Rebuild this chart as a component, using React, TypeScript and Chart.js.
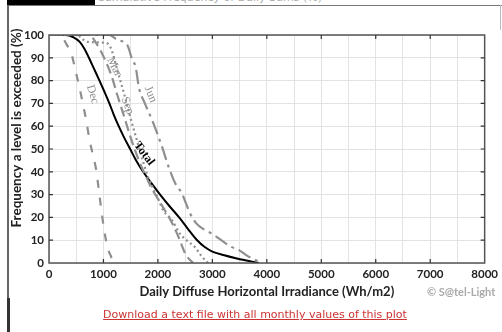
import React, { useEffect, useRef } from "react";
import { Chart, registerables } from "chart.js";

Chart.register(...registerables);

// ---- data ----
const totalX = [0, 300, 450, 564, 650, 733, 830, 927, 1020, 1109, 1190, 1280, 1380, 1490, 1600, 1730, 1880, 2040, 2210, 2390, 2550, 2720, 2860, 3000, 3200, 3450, 3650, 3850];
const totalY = [100, 100, 99, 97, 94, 90, 85, 80, 75, 70, 65, 60, 55, 50, 45, 40, 35, 30, 25, 20, 15, 10, 7, 5, 3.5, 2, 1, 0];

const decX = [0, 200, 320, 420, 500, 560, 620, 680, 744, 800, 865, 925, 985, 1046, 1100, 1137, 1170];
const decY = [100, 100, 96, 91, 83, 77, 70, 63, 54, 48, 41, 30, 19, 10, 5, 3, 0];

const marX = [0, 750, 850, 950, 1050, 1150, 1250, 1370, 1500, 1650, 1800, 1880, 2080, 2250, 2377, 2498, 2619, 2650];
const marY = [100, 100, 97, 93, 88, 82, 74, 65, 55, 45, 37, 33, 25, 18, 11.5, 4.3, 0.6, 0];

const sepX = [0, 500, 700, 1050, 1120, 1170, 1250, 1370, 1480, 1600, 1720, 1830, 1950, 2014, 2100, 2256, 2400, 2550, 2680, 2800, 2920];
const sepY = [100, 100, 97, 96.5, 95, 92, 85, 75, 65, 55, 45, 37, 31, 27.6, 23, 18.9, 13, 9.5, 7, 3, 0];

const junX = [0, 1100, 1258, 1439, 1530, 1591, 1651, 1760, 1893, 2075, 2196, 2317, 2438, 2590, 2700, 2862, 2982, 3164, 3345, 3466, 3650, 3800, 3900];
const junY = [100, 100, 97.8, 95.6, 89, 86, 77, 70, 62.7, 51, 42.2, 35, 30.6, 21.8, 17.5, 14.5, 13, 10, 7.1, 6, 3, 1.2, 0];

const curveLabels = ["Dec", "Mar", "Sep", "Jun", "Total"];
const labelX = [800, 1200, 1440, 1865, 1745];
const labelY = [74, 86, 69, 74, 48];
const labelAngle = [73, 63, 69, 67, 53];

const xMin = 0;
const xMax = 8000;
const yMin = 0;
const yMax = 100;

const yTitle = "Frequency a level is exceeded (%)";
const xTitle = "Daily Diffuse Horizontal Irradiance (Wh/m2)";

const pts = (xs: number[], ys: number[]) => xs.map((x, i) => ({ x, y: ys[i] }));

const GRAY = "#8f8f8f";

const framePlugin = {
  id: "frame",
  afterDatasetsDraw(chart: any) {
    const { ctx, chartArea: a, scales } = chart;
    const xs = scales.x;
    const ys = scales.y;
    ctx.save();
    // curve labels
    curveLabels.forEach((t, i) => {
      const px = xs.getPixelForValue(labelX[i]);
      const py = ys.getPixelForValue(labelY[i]);
      ctx.save();
      ctx.translate(px, py);
      ctx.rotate((labelAngle[i] * Math.PI) / 180);
      ctx.textAlign = "center";
      ctx.textBaseline = "middle";
      if (t === "Total") {
        ctx.fillStyle = "#000";
        ctx.font = "bold 12px 'Liberation Serif'";
      } else {
        ctx.fillStyle = GRAY;
        ctx.font = "12px 'Liberation Serif'";
      }
      ctx.fillText(t, 0, 0);
      ctx.restore();
    });
    // border
    ctx.strokeStyle = "#555";
    ctx.lineWidth = 1.5;
    ctx.strokeRect(a.left, a.top, a.right - a.left, a.bottom - a.top);
    // inner ticks
    ctx.lineWidth = 1.2;
    ctx.strokeStyle = "#333";
    const tl = 4;
    for (let v = xMin + 1000; v < xMax; v += 1000) {
      const px = xs.getPixelForValue(v);
      ctx.beginPath();
      ctx.moveTo(px, a.bottom);
      ctx.lineTo(px, a.bottom - tl);
      ctx.moveTo(px, a.top);
      ctx.lineTo(px, a.top + tl);
      ctx.stroke();
    }
    for (let v = yMin + 10; v < yMax; v += 10) {
      const py = ys.getPixelForValue(v);
      ctx.beginPath();
      ctx.moveTo(a.left, py);
      ctx.lineTo(a.left + tl, py);
      ctx.moveTo(a.right, py);
      ctx.lineTo(a.right - tl, py);
      ctx.stroke();
    }
    // y title
    ctx.save();
    ctx.translate(17, 128);
    ctx.rotate(-Math.PI / 2);
    ctx.textAlign = "center";
    ctx.textBaseline = "middle";
    ctx.fillStyle = "#222";
    ctx.font = "bold 13.5px Lato";
    ctx.fillText(yTitle, 0, 0);
    ctx.restore();
    ctx.restore();
  },
};

export default function App() {
  const ref = useRef<HTMLCanvasElement | null>(null);
  useEffect(() => {
    if (!ref.current) return;
    const line = (label: string, xs: number[], ys: number[], color: string, width: number, dash: number[]) => ({
      label,
      data: pts(xs, ys),
      borderColor: color,
      borderWidth: width,
      borderDash: dash,
      pointRadius: 0,
      fill: false,
      cubicInterpolationMode: "monotone" as const,
    });
    const chart = new Chart(ref.current, {
      type: "line",
      data: {
        datasets: [
          line("Dec", decX, decY, GRAY, 2.2, [8, 10]),
          line("Mar", marX, marY, GRAY, 2.2, [10, 5]),
          line("Sep", sepX, sepY, GRAY, 2.2, [2, 3]),
          line("Jun", junX, junY, GRAY, 2.2, [14, 5, 3, 5]),
          line("Total", totalX, totalY, "#000", 2, []),
        ],
      },
      options: {
        animation: false,
        responsive: false,
        layout: { padding: { left: 0, top: 35, right: 12, bottom: 0 } },
        plugins: { legend: { display: false }, tooltip: { enabled: false } },
        scales: {
          x: {
            type: "linear",
            min: xMin,
            max: xMax,
            afterFit: (s: any) => {
              s.height = 69;
            },
            ticks: {
              stepSize: 500,
              autoSkip: false,
              maxRotation: 0,
              padding: 4,
              color: "#222",
              font: { family: "Lato", weight: "bold", size: 11.5 },
              callback: (v: any) => (Number(v) % 1000 === 0 ? String(v) : ""),
            },
            grid: { color: "#e3e3e3", lineWidth: 1, drawTicks: false },
            border: { display: false },
            title: {
              display: true,
              text: xTitle,
              color: "#222",
              font: { family: "Lato", weight: "bold", size: 13 },
              padding: { top: 0, bottom: 32 },
            },
          },
          y: {
            min: yMin,
            max: yMax,
            afterFit: (s: any) => {
              s.width = 49;
            },
            ticks: {
              stepSize: 10,
              padding: 5,
              color: "#222",
              font: { family: "Lato", weight: "bold", size: 11.5 },
            },
            grid: { color: "#e3e3e3", lineWidth: 1, drawTicks: false },
            border: { display: false },
          },
        },
      },
      plugins: [framePlugin],
    });
    return () => chart.destroy();
  }, []);

  return (
    <div style={{ position: "fixed", left: 0, top: 0, width: 502, height: 332, background: "#fff", overflow: "hidden" }}>
      <div style={{ position: "absolute", left: 7, top: 0, width: 88, height: 5, background: "#000" }} />
      <div
        style={{
          position: "absolute",
          left: 97,
          top: -9,
          fontFamily: "'DejaVu Sans', sans-serif",
          fontSize: 11,
          color: "#aaa",
          whiteSpace: "nowrap",
        }}
      >
        Cumulative Frequency of Daily Sums (%)
      </div>
      <div style={{ position: "absolute", left: 7, top: 5, width: 495, height: 1, background: "#777" }} />
      <div style={{ position: "absolute", left: 7, top: 5, width: 1.5, height: 327, background: "#666" }} />
      <div style={{ position: "absolute", left: 7, top: 298, width: 2.5, height: 34, background: "#333" }} />
      <div style={{ position: "absolute", left: 500, top: 5, width: 1, height: 25, background: "#bbb" }} />
      <canvas ref={ref} width={502} height={332} style={{ position: "absolute", left: 0, top: 0, width: 502, height: 332 }} />
      <div
        style={{
          position: "absolute",
          left: 427,
          top: 285,
          fontFamily: "Lato, sans-serif",
          fontWeight: "bold",
          fontSize: 11,
          color: "#aaa",
          whiteSpace: "nowrap",
        }}
      >
        © S@tel-Light
      </div>
      <div
        style={{
          position: "absolute",
          left: 0,
          width: 510,
          top: 308,
          textAlign: "center",
          fontFamily: "'DejaVu Sans', sans-serif",
          fontSize: 11,
          color: "#cc3333",
          textDecoration: "underline",
          whiteSpace: "nowrap",
        }}
      >
        Download a text file with all monthly values of this plot
      </div>
    </div>
  );
}
